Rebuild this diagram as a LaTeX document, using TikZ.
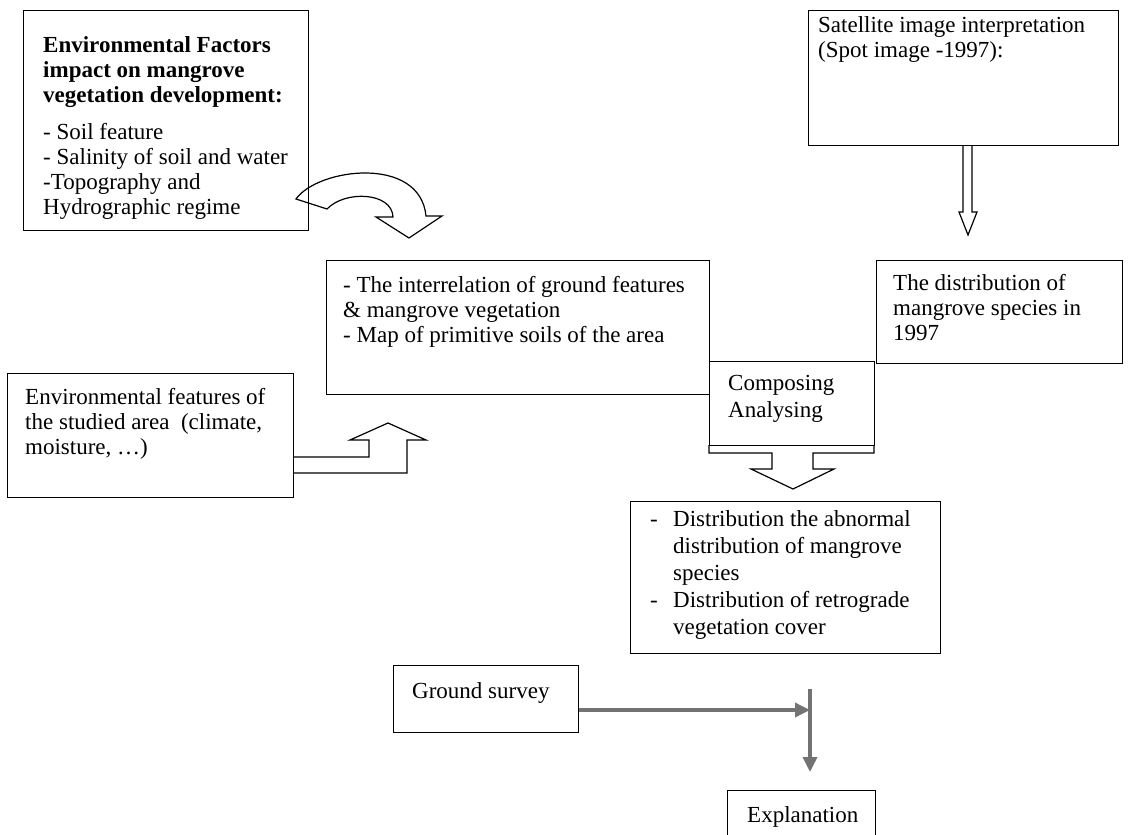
\documentclass[tikz,border=0pt]{standalone}
\usepackage{fontspec}
\setmainfont{Liberation Serif}
\usepackage{tikz}
\usetikzlibrary{positioning,arrows.meta}
\tikzset{
  box/.style={draw, line width=1.2pt, inner sep=0pt, anchor=north west},
  txt/.style={inner sep=0pt, align=left, font=\fontsize{23}{25}\selectfont},
  blockarrow/.style={draw, line width=1.2pt, line join=miter},
  grayarrow/.style={draw=black!55, line width=3.5pt, -{Triangle[length=15pt,width=14pt]}},
}

\begin{document}
\begin{tikzpicture}[x=1pt, y=-1pt]
\useasboundingbox (0,0) rectangle (1146,835);

% boxes
\node[box, minimum width=285pt, minimum height=220pt] (factors) at (23,10) {};
\node[txt, below right=26pt and 20pt of factors.north west] (factxt)
  {\textbf{Environmental Factors}\\ \textbf{impact on mangrove}\\ \textbf{vegetation development:}\\[12pt]
   - Soil feature\\ - Salinity of soil and water\\ -Topography and\\ Hydrographic regime};

\node[box, minimum width=310pt, minimum height=135pt] (sat) at (808,10) {};
\node[txt, below right=6pt and 10pt of sat.north west] (sattxt)
  {Satellite image interpretation\\ (Spot image -1997):};

\node[box, minimum width=383pt, minimum height=134pt] (inter) at (326,260) {};
\node[txt, below right=16pt and 17pt of inter.north west] (intertxt)
  {- The interrelation of ground features\\ \& mangrove vegetation\\ - Map of primitive soils of the area};

\node[box, minimum width=246pt, minimum height=103pt] (distr) at (876,260) {};
\node[txt, below right=14pt and 17pt of distr.north west] (distrtxt)
  {The distribution of\\ mangrove species in\\ 1997};

\node[box, minimum width=165pt, minimum height=84pt] (compose) at (709,361) {};
\node[txt, below right=14pt and 19pt of compose.north west] (composetxt)
  {Composing\\[2pt] Analysing};

\node[box, minimum width=286pt, minimum height=124pt] (envf) at (7,373) {};
\node[txt, below right=15pt and 18pt of envf.north west] (envftxt)
  {Environmental features of\\ the studied area~ (climate,\\ moisture, \dots)};

\node[box, minimum width=310pt, minimum height=152pt] (abnorm) at (630,501) {};
\node[txt, below right=9pt and 20pt of abnorm.north west] (abnormtxt)
  {\makebox[23pt][l]{-}Distribution the abnormal\\[2pt]
   \hspace*{23pt}distribution of mangrove\\[2pt]
   \hspace*{23pt}species\\[2pt]
   \makebox[23pt][l]{-}Distribution of retrograde\\[2pt]
   \hspace*{23pt}vegetation cover};

\node[box, minimum width=185pt, minimum height=67pt] (survey) at (393,665) {};
\node[txt, below right=17pt and 19pt of survey.north west] (surveytxt) {Ground survey};

\node[box, minimum width=148pt, minimum height=50pt] (expl) at (727,790) {};
\node[txt, below right=16pt and 20pt of expl.north west] (expltxt) {Explanation};

% block arrows
\draw[blockarrow] (296,199) .. controls (318,168) and (420,155) .. (426,216)
  -- (442,216) -- (409,238) -- (376,217) -- (393,217)
  .. controls (392,192) and (345,190) .. (327,209) -- cycle;

\draw[blockarrow] (963,145) -- (963,212) -- (959,212) -- (968,235)
  -- (977,212) -- (972,212) -- (972,145);

\draw[blockarrow] (293,457) -- (369,457) -- (369,440) -- (350,440) -- (388,423)
  -- (426,440) -- (407,440) -- (407,473) -- (293,473);

\draw[blockarrow] (709,445) -- (709,453) -- (772,453) -- (772,469) -- (751,469)
  -- (793,489) -- (834,469) -- (813,469) -- (813,453) -- (874,453) -- (874,445);

% ground survey -> explanation
\coordinate (join) at (810,710);
\coordinate (jtop) at (810,689);
\coordinate (jbot) at (810,772);
\draw[grayarrow] (survey.east |- join) -- (join);
\draw[grayarrow] (jtop) -- (jbot);

\end{tikzpicture}
\end{document}
